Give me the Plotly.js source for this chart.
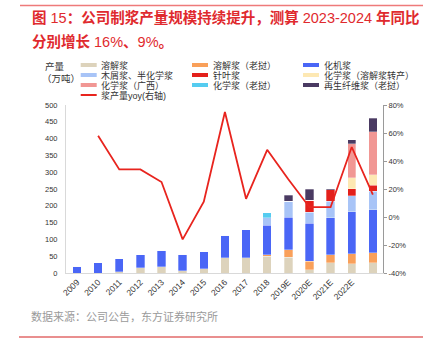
<!DOCTYPE html>
<html><head><meta charset="utf-8">
<script src="https://cdn.plot.ly/plotly-3.0.1.min.js"></script>
<style>html,body{margin:0;padding:0;background:#fff;}#chart{width:423px;height:358px;}</style>
</head><body><div id="chart"></div>
<script>
// ---- data ----
const categories = ['2009','2010','2011','2012','2013','2014','2015','2016','2017','2018','2019E','2020E','2021E','2022E','2023E'];
const xTickLabels = ['2009','2010','2011','2012','2013','2014','2015','2016','2017','2018','2019E','2020E','2021E','2022E'];
const dissolvingPulp   = [0, 0, 3, 15, 18, 7, 13, 46, 46, 50, 47, 10, 30, 27, 30];
const dissolvingLaos   = [0, 0, 0, 0, 0, 0, 0, 0, 0, 5, 22, 25, 25, 30, 30];
const chemiMechPulp    = [20, 31, 39, 39, 49, 49, 51, 66, 82, 87, 97, 113, 109, 126, 129];
const woodChipSemiChem = [0, 0, 0, 0, 0, 0, 0, 0, 0, 23, 47, 33, 49, 47, 54];
const softwoodPulp     = [0, 0, 0, 0, 0, 0, 0, 0, 0, 0, 0, 35, 35, 21, 18];
const chemConverted    = [0, 0, 0, 0, 0, 0, 0, 0, 0, 0, 0, 0, 0, 32, 32];
const chemGuangxi      = [0, 0, 0, 0, 0, 0, 0, 0, 0, 0, 0, 0, 0, 101, 127];
const chemLaos         = [0, 0, 0, 0, 0, 0, 0, 0, 0, 14, 0, 0, 0, 0, 0];
const recycledLaos     = [0, 0, 0, 0, 0, 0, 0, 0, 0, 0, 19, 33, 3, 13, 40];
const pulpYoy          = [null, 58, 34, 34, 25, -16, 11, 75, 13, 48, 27, 7, 7, 50, 16];
const rightTickVals = [-40, -20, 0, 20, 40, 60, 80];
const rightTickText = ['-40%', '-20%', '0%', '20%', '40%', '60%', '80%'];

const seriesNames = ['溶解浆','溶解浆（老挝）','化机浆','木屑浆、半化学浆','针叶浆','化学浆（溶解浆转产）','化学浆（广西）','化学浆（老挝）','再生纤维浆（老挝）'];
const seriesValues = [dissolvingPulp, dissolvingLaos, chemiMechPulp, woodChipSemiChem, softwoodPulp, chemConverted, chemGuangxi, chemLaos, recycledLaos];
const seriesColors = ['#DDD3BC','#F9A05A','#4A66F6','#A8C4F7','#E3201B','#FDE8B3','#F19794','#55CCF0','#4A3A62'];
const lineName = '浆产量yoy(右轴)';
const lineColor = '#E8241E';

const FONT = 'Liberation Sans, Arial, Noto Sans CJK SC, sans-serif';

// ---- traces ----
const traces = seriesValues.map((vals, i) => ({
  type: 'bar', x: categories, y: vals, name: seriesNames[i],
  marker: {color: seriesColors[i], line: {color: 'rgba(255,255,255,0.6)', width: 0.5}},
  hoverinfo: 'skip'
}));
traces.push({
  type: 'scatter', mode: 'lines', x: categories, y: pulpYoy, yaxis: 'y2', name: lineName,
  line: {color: lineColor, width: 1.8}, connectgaps: false, hoverinfo: 'skip'
});

// ---- layout helpers (pixel -> paper) ----
const L = 66, R = 40, T = 105, B = 85, W = 423, H = 358;
const PW = W - L - R, PH = H - T - B;
const PX = px => (px - L) / PW;
const PY = py => (H - B - py) / PH;

const annotations = [];
const shapes = [];

// title
annotations.push({xref:'paper', yref:'paper', x: PX(30), y: PY(17), xanchor:'left', yanchor:'middle', showarrow:false,
  text:'<b>图</b> 15<b>：公司制浆产量规模持续提升，测算</b> 2023-2024 <b>年同比</b>',
  font:{family: FONT, size: 14.5, color:'#DF2A2E'}});
annotations.push({xref:'paper', yref:'paper', x: PX(30), y: PY(41.5), xanchor:'left', yanchor:'middle', showarrow:false,
  text:'<b>分别增长</b> 16%<b>、</b>9%<b>。</b>',
  font:{family: FONT, size: 14.5, color:'#DF2A2E'}});
// unit label
annotations.push({xref:'paper', yref:'paper', x: PX(55), y: PY(67), xanchor:'center', yanchor:'middle', showarrow:false,
  text:'产量', font:{family: FONT, size: 9.5, color:'#333'}});
annotations.push({xref:'paper', yref:'paper', x: PX(61), y: PY(78.5), xanchor:'center', yanchor:'middle', showarrow:false,
  text:'（万吨）', font:{family: FONT, size: 9.5, color:'#333'}});
// source
annotations.push({xref:'paper', yref:'paper', x: PX(29), y: PY(316), xanchor:'left', yanchor:'middle', showarrow:false,
  text:'数据来源：公司公告，东方证券研究所', font:{family: FONT, size: 11, color:'#9A9A9A'}});

// custom legend
const colX = [80.7, 192, 303];
const rowY = [65, 75, 85, 95];
const LEGSZ = 9;
seriesNames.forEach((nm, k) => {
  const r = Math.floor(k / 3), c = k % 3;
  shapes.push({type:'rect', xref:'paper', yref:'paper', x0: PX(colX[c]), x1: PX(colX[c] + 16),
    y0: PY(rowY[r] + 2), y1: PY(rowY[r] - 2), fillcolor: seriesColors[k], line:{width:0}});
  annotations.push({xref:'paper', yref:'paper', x: PX(colX[c] + 18.5), y: PY(rowY[r]), xanchor:'left', yanchor:'middle',
    showarrow:false, text: nm, font:{family: FONT, size: LEGSZ, color:'#333'}});
});
{
  const k = seriesNames.length, r = Math.floor(k / 3), c = k % 3;
  shapes.push({type:'line', xref:'paper', yref:'paper', x0: PX(colX[c]), x1: PX(colX[c] + 16),
    y0: PY(rowY[r]), y1: PY(rowY[r]), line:{color: lineColor, width: 2}});
  annotations.push({xref:'paper', yref:'paper', x: PX(colX[c] + 18.5), y: PY(rowY[r]), xanchor:'left', yanchor:'middle',
    showarrow:false, text: lineName, font:{family: FONT, size: LEGSZ, color:'#333'}});
}
// frame lines
shapes.push({type:'line', xref:'paper', yref:'paper', x0: PX(20), x1: PX(423), y0: PY(5.5), y1: PY(5.5), line:{color:'#EE7A7A', width:1.5}});
shapes.push({type:'line', xref:'paper', yref:'paper', x0: PX(19), x1: PX(423), y0: PY(337), y1: PY(337), line:{color:'#E26A6A', width:1.5}});

const layout = {
  width: W, height: H, margin: {l: L, r: R, t: T, b: B, pad: 0},
  paper_bgcolor: '#fff', plot_bgcolor: '#fff',
  font: {family: FONT, size: 7.5, color: '#333'},
  barmode: 'stack', bargap: 0.6, showlegend: false,
  xaxis: {type: 'category', range: [-0.52, 14.48], tickmode: 'array', tickvals: xTickLabels, ticktext: xTickLabels,
    tickangle: -45, tickfont: {size: 8.5, color: '#333'}, showline: true, linecolor: '#D9D9D9', linewidth: 1,
    ticks: '', showgrid: false, zeroline: false, fixedrange: true},
  yaxis: {range: [0, 500], tick0: 0, dtick: 50, showline: true, linecolor: '#D9D9D9', linewidth: 1,
    ticks: '', ticklabelstandoff: 6, showgrid: false, zeroline: false, tickfont: {size: 7.5, color: '#333'}, fixedrange: true},
  yaxis2: {overlaying: 'y', side: 'right', range: [-40, 80], tickmode: 'array', tickvals: rightTickVals, ticktext: rightTickText,
    showline: true, linecolor: '#9A9A9A', linewidth: 1, ticks: 'outside', ticklen: 3, tickcolor: '#9A9A9A',
    showgrid: false, zeroline: false, tickfont: {size: 7.5, color: '#333'}, fixedrange: true},
  annotations: annotations, shapes: shapes
};

Plotly.newPlot('chart', traces, layout, {displayModeBar: false, staticPlot: true});
</script>
</body></html>
